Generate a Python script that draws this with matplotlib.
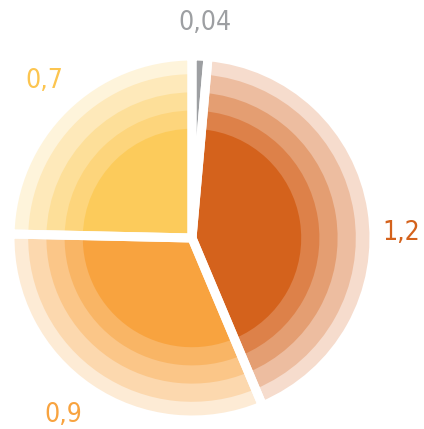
import numpy as np
import matplotlib.pyplot as plt
from matplotlib.colors import to_rgb

# --- Datos ---
values = [0.04, 1.2, 0.9, 0.7]
labels = ["0,04", "1,2", "0,9", "0,7"]
base_colors = ["#9d9fa2", "#d4621c", "#f8a33f", "#fccb5b"]
label_colors = ["#9d9fa2", "#d4621c", "#f8a33f", "#fcc550"]

# Anillos concéntricos: radio y opacidad (mezcla con blanco)
ring_radii = [1.0, 0.9, 0.8, 0.7, 0.6]
ring_alpha = [0.22, 0.42, 0.62, 0.8, 1.0]

# Posición de las etiquetas (en unidades del radio)
label_pos = [(0.07, 1.18), (1.15, 0.03), (-0.71, -0.97), (-0.81, 0.86)]


def blend(color, a):
    rgb = np.array(to_rgb(color))
    return tuple(1 - a * (1 - rgb))


W, H = 424, 429
cx, cy, R = 192, 429 - 238, 182   # centro y radio en píxeles

fig = plt.figure(figsize=(W / 100, H / 100), dpi=100)
ax = fig.add_axes([0, 0, 1, 1])

for r, a in zip(ring_radii, ring_alpha):
    cols = [c if i == 0 else blend(c, a) for i, c in enumerate(base_colors)]
    ax.pie(values, radius=r, colors=cols, startangle=90, counterclock=False,
           wedgeprops=dict(linewidth=0))

# Separaciones blancas entre sectores
ax.pie(values, radius=1.0, startangle=90, counterclock=False,
       wedgeprops=dict(facecolor="none", edgecolor="white", linewidth=6.5))

for txt, (x, y), c in zip(labels, label_pos, label_colors):
    ax.text(x, y, txt, color=c, fontsize=19, ha="center", va="center",
            family="DejaVu Sans", fontstretch="condensed")

ax.set_xlim(-cx / R, (W - cx) / R)
ax.set_ylim(-cy / R, (H - cy) / R)
ax.set_aspect("auto")
ax.axis("off")

fig.savefig("out.png", dpi=100)
